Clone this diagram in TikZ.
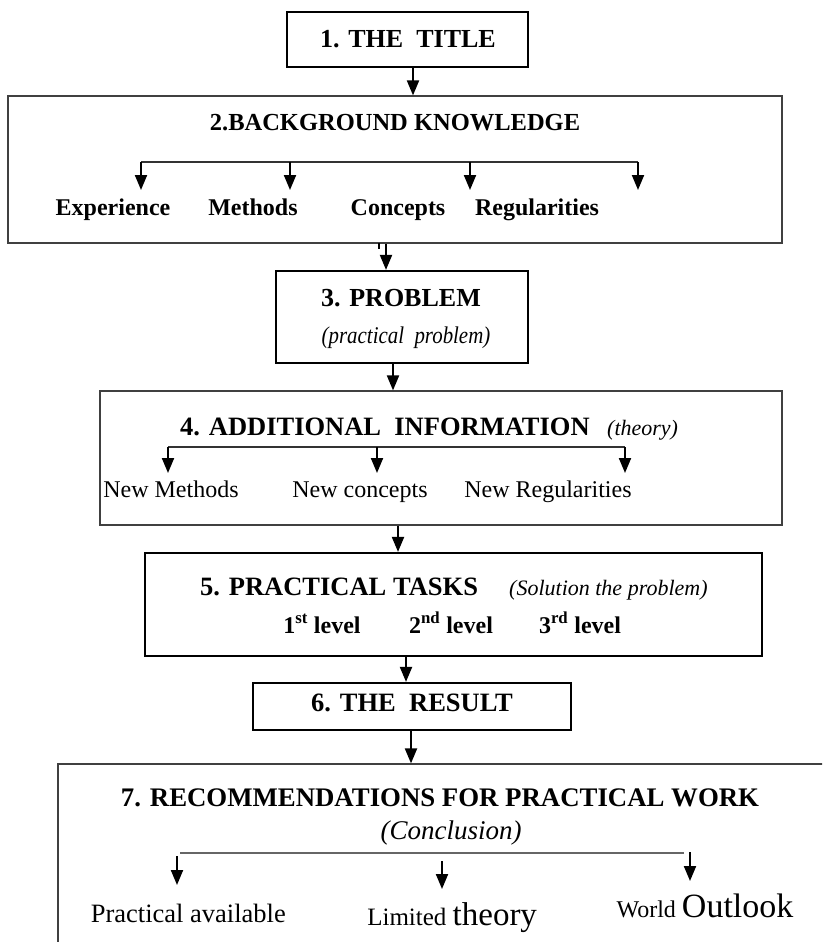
\documentclass[tikz,border=0pt]{standalone}
\usepackage{fontspec}
\setmainfont{Liberation Serif}
\usetikzlibrary{arrows.meta}
\newcommand{\fs}[1]{\fontsize{#1}{#1}\selectfont}
\tikzset{
  thickbox/.style={draw=black, line width=2.2pt, inner sep=0pt},
  thinbox/.style={draw=black!75, line width=1.2pt, inner sep=0pt},
  arr/.style={line width=2pt, -{Triangle[width=12pt,length=15pt]}},
  branch/.style={line width=1.2pt, draw=black!80},
  lbl/.style={inner sep=0pt, anchor=base},
}
\begin{document}
\begin{tikzpicture}[x=1pt, y=-1pt]
\useasboundingbox (0,0) rectangle (822,942);
\clip (0,0) rectangle (822,942);
% boxes
\node[thickbox, minimum width=241pt, minimum height=55pt] (b1) at (407.5,39.5) {};
\node[thinbox, minimum width=774pt, minimum height=147pt] (b2) at (395,169.5) {};
\node[thickbox, minimum width=252pt, minimum height=92pt] (b3) at (402,317) {};
\node[thinbox, minimum width=682pt, minimum height=134pt] (b4) at (441,458) {};
\node[thickbox, minimum width=617pt, minimum height=103pt] (b5) at (453.5,604.5) {};
\node[thickbox, minimum width=318pt, minimum height=47pt] (b6) at (412,706.5) {};
\node[thinbox, minimum width=800pt, minimum height=220pt] (b7) at (458,874) {};
% texts
\node[lbl] (t1) at (408,48) {\fs{26}\bfseries 1. THE\ \ TITLE};
\node[lbl] (t2) at (395,130) {\fs{24.5}\bfseries 2.BACKGROUND KNOWLEDGE};
\node[lbl] (l21) at (113,215) {\fs{24}\bfseries Experience};
\node[lbl] (l22) at (253,215) {\fs{24}\bfseries Methods};
\node[lbl] (l23) at (398,215) {\fs{24}\bfseries Concepts};
\node[lbl] (l24) at (537,215) {\fs{24}\bfseries Regularities};
\node[lbl] (t3) at (401,306) {\fs{26}\bfseries 3. PROBLEM};
\node[lbl] (t3b) at (406,343) {\scalebox{0.87}[1]{\fs{24}\itshape (practical\ \ problem)}};
\node[lbl, anchor=base west] (t4) at (180,435) {\fs{26.5}\bfseries 4. ADDITIONAL\ \ INFORMATION};
\node[lbl, anchor=base west] (t4b) at (607,435) {\fs{22}\itshape (theory)};
\node[lbl] (l41) at (168,497) {\fs{24} New Methods};
\node[lbl] (l42) at (357,497) {\fs{24} New concepts};
\node[lbl] (l43) at (545,497) {\fs{24} New Regularities};
\node[lbl, anchor=base west] (t5) at (200,595) {\fs{26.5}\bfseries 5. PRACTICAL TASKS};
\node[lbl, anchor=base west] (t5b) at (509,595) {\fs{22}\itshape (Solution the problem)};
\node[lbl] (l51) at (322,633) {\fs{24}\bfseries 1\textsuperscript{st} level};
\node[lbl] (l52) at (451,633) {\fs{24}\bfseries 2\textsuperscript{nd} level};
\node[lbl] (l53) at (580,633) {\fs{24}\bfseries 3\textsuperscript{rd} level};
\node[lbl] (t6) at (412,711) {\fs{26.5}\bfseries 6. THE\ \ RESULT};
\node[lbl] (t7) at (440,806) {\fs{26.8}\bfseries 7. RECOMMENDATIONS FOR PRACTICAL WORK};
\node[lbl] (t7b) at (451,839) {\fs{27}\itshape (Conclusion)};
\node[lbl] (l71) at (185,922) {\fs{26.5} Practical available};
\node[lbl] (l72) at (449,925) {\fs{25} Limited \fs{33}theory};
\node[lbl] (l73) at (702,917) {\fs{24} World \fs{34}Outlook};
% main arrows
\coordinate (a1) at (413,0);
\coordinate (a2) at (386,0);
\coordinate (a3) at (393,0);
\coordinate (a4) at (398,0);
\coordinate (a5) at (406,0);
\coordinate (a6) at (411,0);
\draw[arr] (a1 |- b1.south) -- (a1 |- b2.north);
\draw[arr] (a2 |- b2.south) -- (a2 |- b3.north);
\draw[line width=1.5pt] (379,243) -- (379,249);
\draw[arr] (a3 |- b3.south) -- (a3 |- b4.north);
\draw[arr] (a4 |- b4.south) -- (a4 |- b5.north);
\draw[arr] (a5 |- b5.south) -- (a5 |- b6.north);
\draw[arr] (a6 |- b6.south) -- (a6 |- b7.north);
% branch in box 2
\coordinate (h2a) at (141,162);
\coordinate (h2b) at (290,162);
\coordinate (h2c) at (470,162);
\coordinate (h2d) at (638,162);
\draw[branch] (h2a) -- (h2d);
\foreach \c in {h2a,h2b,h2c,h2d} \draw[arr] (\c) -- ++(0,28);
% branch in box 4
\coordinate (h4a) at (168,447);
\coordinate (h4b) at (377,447);
\coordinate (h4c) at (625,447);
\draw[branch] (h4a) -- (h4c);
\foreach \c in {h4a,h4b,h4c} \draw[arr] (\c) -- ++(0,26);
% branch in box 7
\coordinate (h7a) at (180,853);
\coordinate (h7c) at (684,853);
\draw[branch, draw=black!60] (h7a) -- (h7c);
\draw[arr] (177,856) -- (177,885);
\draw[arr] (442,861) -- (442,889);
\draw[arr] (690,852) -- (690,881);
\end{tikzpicture}
\end{document}
